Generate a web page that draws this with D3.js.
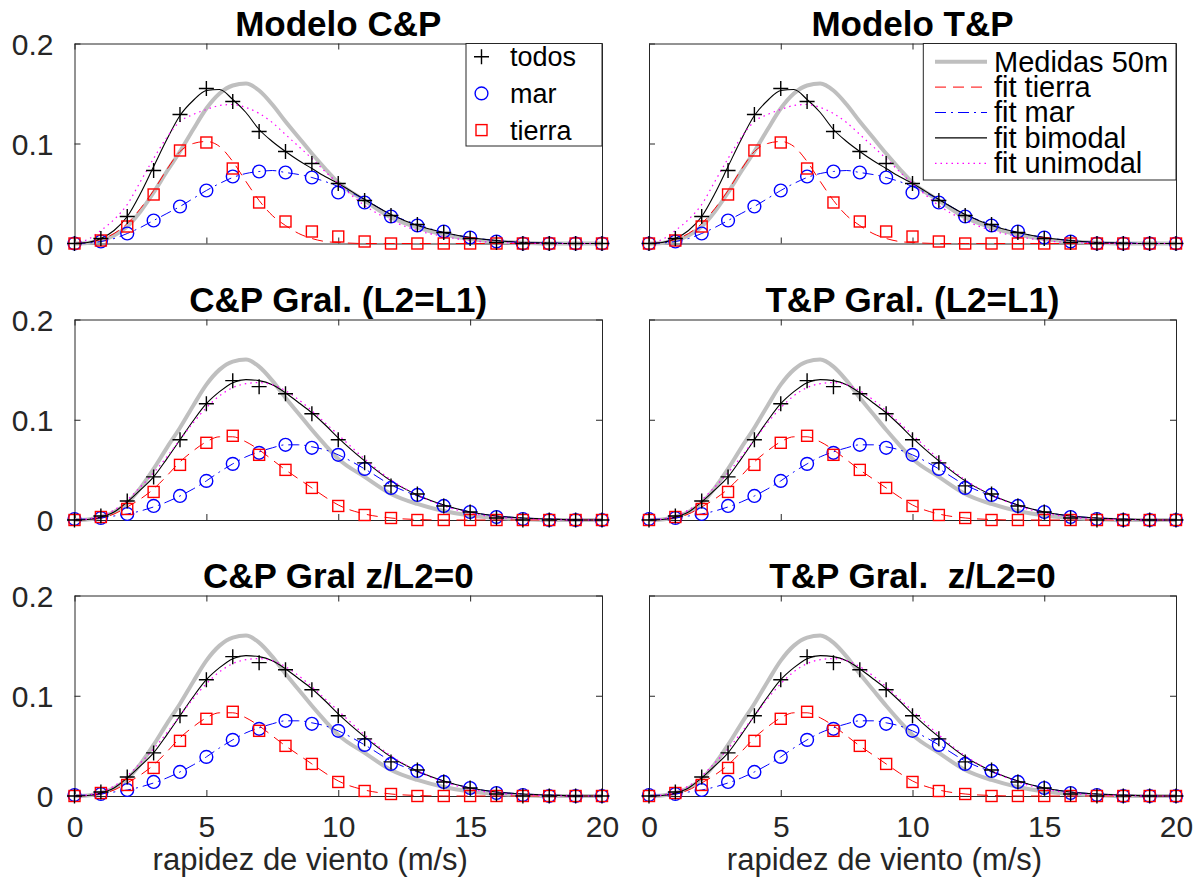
<!DOCTYPE html>
<html>
<head>
<meta charset="utf-8">
<script src="https://cdn.jsdelivr.net/npm/d3@7"></script>
<style>
    body { margin: 0; background: #fff; }
    svg text { font-family: "Liberation Sans", Arial, Helvetica, sans-serif; }
</style>
</head>
<body>
<svg id="chart" width="1199" height="888"></svg>
<script>
const [svgW, svgH] = [1199, 888];
const colX = [[74.5, 602], [649, 1176]];
const rowY = [[43.5, 243.5], [319.5, 520], [595.5, 796]];

// ticks
const xTicks = [0, 5, 10, 15, 20];
const xTickLabels = ['0', '5', '10', '15', '20'];
const yTicks = [0, 0.1, 0.2];
const yTickLabels = ['0', '0.1', '0.2'];

// marker positions (m/s)
const windSpeed = [0, 1, 2, 3, 4, 5, 6, 7, 8, 9, 10, 11, 12, 13, 14, 15, 16, 17, 18, 19, 20];
// sample points of the fitted / measured curves
const fitX = [0, 0.5, 1, 1.5, 2, 2.5, 3, 3.5, 4, 4.5, 5, 5.5, 6, 6.5, 7, 7.5, 8, 8.5, 9, 9.5, 10,
    11, 12, 13, 14, 15, 16, 17, 18, 19, 20];

// measured 50m (same in every panel)
const medidas50m = [0, 0.0005, 0.003, 0.008, 0.017, 0.032, 0.051, 0.072, 0.092, 0.114, 0.135, 0.150, 0.158, 0.160, 0.153, 0.139, 0.122, 0.106, 0.090, 0.075, 0.061,
    0.043, 0.026, 0.016, 0.009, 0.0045, 0.002, 0.0008, 0, 0, 0];

// "Modelo" panels
const modeloTodos = [0, 0.005, 0.027, 0.073, 0.129, 0.155, 0.142, 0.112, 0.092, 0.080, 0.060, 0.043, 0.028, 0.019, 0.011, 0.005, 0.001, 0, 0, 0, 0];
const modeloMar = [0, 0.002, 0.010, 0.023, 0.037, 0.053, 0.067, 0.072, 0.071, 0.066, 0.051, 0.041, 0.027, 0.018, 0.012, 0.006, 0.002, 0, 0, 0, 0];
const modeloTierra = [0, 0.003, 0.017, 0.049, 0.093, 0.101, 0.075, 0.041, 0.022, 0.012, 0.007, 0.002, 0, 0, 0, 0, 0, 0, 0, 0, 0];
const modeloFitTierra = [0, 0.001, 0.004, 0.010, 0.020, 0.035, 0.053, 0.074, 0.092, 0.100, 0.102, 0.097, 0.082, 0.062, 0.043, 0.028, 0.018, 0.010, 0.005, 0.002, 0.001,
    0, 0, 0, 0, 0, 0, 0, 0, 0, 0];
const modeloFitMar = [0, 0.0005, 0.002, 0.005, 0.010, 0.016, 0.023, 0.030, 0.037, 0.045, 0.053, 0.060, 0.066, 0.070, 0.072, 0.073, 0.071, 0.069, 0.066, 0.062, 0.057,
    0.044, 0.029, 0.019, 0.011, 0.006, 0.003, 0.001, 0.0005, 0, 0];
const modeloFitBimodal = [0, 0.001, 0.005, 0.013, 0.027, 0.050, 0.077, 0.104, 0.128, 0.143, 0.153, 0.154, 0.144, 0.131, 0.114, 0.102, 0.092, 0.083, 0.075, 0.067, 0.060,
    0.044, 0.029, 0.018, 0.011, 0.006, 0.003, 0.001, 0.0005, 0, 0];
const modeloFitUnimodal = [0, 0.004, 0.013, 0.024, 0.039, 0.062, 0.085, 0.106, 0.122, 0.129, 0.134, 0.138, 0.139, 0.136, 0.130, 0.121, 0.109, 0.097, 0.085, 0.072, 0.060,
    0.038, 0.023, 0.013, 0.007, 0.003, 0.001, 0.0005, 0, 0, 0];

// "Gral" panels
const gralTodos = [0, 0.004, 0.019, 0.043, 0.080, 0.116, 0.139, 0.133, 0.126, 0.106, 0.080, 0.057, 0.034, 0.026, 0.014, 0.008, 0.002, 0, 0, 0, 0];
const gralMar = [0.001, 0.002, 0.006, 0.014, 0.024, 0.039, 0.056, 0.067, 0.075, 0.072, 0.065, 0.051, 0.032, 0.025, 0.014, 0.008, 0.003, 0.001, 0, 0, 0];
const gralTierra = [0, 0.003, 0.011, 0.028, 0.055, 0.077, 0.084, 0.065, 0.050, 0.032, 0.014, 0.005, 0.002, 0, 0, 0, 0, 0, 0, 0, 0];
const gralFitTierra = [0, 0.0005, 0.002, 0.006, 0.013, 0.021, 0.031, 0.044, 0.058, 0.069, 0.078, 0.083, 0.083, 0.078, 0.070, 0.060, 0.050, 0.041, 0.032, 0.023, 0.015,
    0.006, 0.002, 0.0005, 0, 0, 0, 0, 0, 0, 0];
const gralFitMar = [0.0005, 0.001, 0.002, 0.004, 0.006, 0.009, 0.013, 0.018, 0.024, 0.031, 0.039, 0.048, 0.056, 0.063, 0.068, 0.072, 0.075, 0.075, 0.073, 0.070, 0.065,
    0.051, 0.035, 0.024, 0.015, 0.008, 0.004, 0.002, 0.001, 0, 0];
const gralFitBimodal = [0, 0.0005, 0.003, 0.008, 0.018, 0.030, 0.043, 0.061, 0.080, 0.099, 0.116, 0.128, 0.137, 0.140, 0.139, 0.135, 0.127, 0.117, 0.107, 0.095, 0.082,
    0.059, 0.039, 0.025, 0.015, 0.008, 0.004, 0.002, 0.001, 0, 0];
const gralFitUnimodal = [0, 0.001, 0.004, 0.010, 0.020, 0.033, 0.047, 0.063, 0.080, 0.097, 0.112, 0.124, 0.132, 0.136, 0.137, 0.135, 0.129, 0.120, 0.109, 0.097, 0.085,
    0.061, 0.040, 0.025, 0.014, 0.007, 0.003, 0.001, 0.0005, 0, 0];

const legendMarkers = ['todos', 'mar', 'tierra'];
const legendLines = ['Medidas 50m', 'fit tierra', 'fit mar', 'fit bimodal', 'fit unimodal'];

const dataSets = {
    modelo: {todos: modeloTodos, mar: modeloMar, tierra: modeloTierra,
        fitTierra: modeloFitTierra, fitMar: modeloFitMar, fitBimodal: modeloFitBimodal, fitUnimodal: modeloFitUnimodal},
    gral: {todos: gralTodos, mar: gralMar, tierra: gralTierra,
        fitTierra: gralFitTierra, fitMar: gralFitMar, fitBimodal: gralFitBimodal, fitUnimodal: gralFitUnimodal}
};

const panels = [
    {title: 'Modelo C&P', col: 0, row: 0, set: 'modelo', legend: 'markers'},
    {title: 'Modelo T&P', col: 1, row: 0, set: 'modelo', legend: 'lines'},
    {title: 'C&P Gral. (L2=L1)', col: 0, row: 1, set: 'gral'},
    {title: 'T&P Gral. (L2=L1)', col: 1, row: 1, set: 'gral'},
    {title: 'C&P Gral z/L2=0', col: 0, row: 2, set: 'gral'},
    {title: 'T&P Gral.  z/L2=0', col: 1, row: 2, set: 'gral'}
];

const lineStyles = {
    medidas: {stroke: '#bfbfbf', width: 4, dash: null},
    fitTierra: {stroke: '#ff0000', width: 1, dash: '11,7'},
    fitMar: {stroke: '#0000ff', width: 1, dash: '11,5,2,5'},
    fitBimodal: {stroke: '#000000', width: 1.1, dash: null},
    fitUnimodal: {stroke: '#ff00ff', width: 1.2, dash: '1.5,4'}
};
const axisColor = '#262626';
const svg = d3.select('#chart');

function drawMarker(sel, kind, cx, cy) {
    if (kind === 'todos') {
        sel.append('path').attr('d', `M${cx - 7.5},${cy}H${cx + 7.5}M${cx},${cy - 7.5}V${cy + 7.5}`)
            .attr('stroke', '#000').attr('stroke-width', 1.4).attr('fill', 'none');
    } else if (kind === 'mar') {
        sel.append('circle').attr('cx', cx).attr('cy', cy).attr('r', 6.4)
            .attr('stroke', '#0000ff').attr('stroke-width', 1.4).attr('fill', 'none');
    } else {
        sel.append('rect').attr('x', cx - 5.5).attr('y', cy - 5.5).attr('width', 11).attr('height', 11)
            .attr('stroke', '#ff0000').attr('stroke-width', 1.4).attr('fill', 'none');
    }
}

function styleAxis(g, showLabels) {
    g.select('.domain').attr('stroke', axisColor).attr('stroke-width', 1);
    g.selectAll('.tick line').attr('stroke', axisColor).attr('stroke-width', 1);
    g.selectAll('text').attr('font-size', 30).attr('fill', axisColor)
        .style('display', showLabels ? null : 'none');
}

function drawPanel(p) {
    const data = dataSets[p.set];
    const x = d3.scaleLinear().domain([0, 20]).range(colX[p.col]);
    const y = d3.scaleLinear().domain([0, 0.2]).range([rowY[p.row][1], rowY[p.row][0]]);
    const g = svg.append('g');

    // box with inward ticks
    const gb = g.append('g').attr('transform', `translate(0,${y(0)})`)
        .call(d3.axisBottom(x).tickValues(xTicks).tickSizeInner(-6).tickSizeOuter(0).tickPadding(20)
            .tickFormat((d, i) => xTickLabels[i]));
    styleAxis(gb, p.row === 2);
    const gt = g.append('g').attr('transform', `translate(0,${y(0.2)})`)
        .call(d3.axisTop(x).tickValues(xTicks).tickSizeInner(-6).tickSizeOuter(0));
    styleAxis(gt, false);
    const gl = g.append('g').attr('transform', `translate(${x(0)},0)`)
        .call(d3.axisLeft(y).tickValues(yTicks).tickSizeInner(-6).tickSizeOuter(0).tickPadding(21)
            .tickFormat((d, i) => yTickLabels[i]));
    styleAxis(gl, p.col === 0);
    gl.selectAll('text').attr('dy', '0.36em');
    const gr = g.append('g').attr('transform', `translate(${x(20)},0)`)
        .call(d3.axisRight(y).tickValues(yTicks).tickSizeInner(-6).tickSizeOuter(0));
    styleAxis(gr, false);

    // curves
    const line = d3.line().x((d, i) => x(fitX[i])).y(d => y(d)).curve(d3.curveMonotoneX);
    const curves = [
        ['medidas', medidas50m],
        ['fitTierra', data.fitTierra],
        ['fitMar', data.fitMar],
        ['fitBimodal', data.fitBimodal],
        ['fitUnimodal', data.fitUnimodal]
    ];
    curves.forEach(([key, values]) => {
        const st = lineStyles[key];
        g.append('path').attr('d', line(values)).attr('fill', 'none')
            .attr('stroke', st.stroke).attr('stroke-width', st.width)
            .attr('stroke-dasharray', st.dash);
    });

    // markers
    const gm = g.append('g');
    ['mar', 'tierra', 'todos'].forEach(kind => {
        data[kind].forEach((v, i) => drawMarker(gm, kind, x(windSpeed[i]), y(v)));
    });

    // title
    g.append('text').attr('x', (colX[p.col][0] + colX[p.col][1]) / 2).attr('y', rowY[p.row][0] - 7.5)
        .attr('text-anchor', 'middle').attr('font-size', 35).attr('font-weight', 'bold')
        .style('white-space', 'pre').text(p.title);

    // x label sits a bit left of the axis centre, as in the original
    if (p.row === 2) {
        g.append('text').attr('x', (colX[p.col][0] + colX[p.col][1]) / 2 - 28).attr('y', 870)
            .attr('text-anchor', 'middle').attr('font-size', 31).attr('fill', axisColor)
            .text('rapidez de viento (m/s)');
    }

    if (p.legend === 'markers') drawMarkerLegend(g, x(20));
    if (p.legend === 'lines') drawLineLegend(g, x(20));
}

function drawMarkerLegend(g, right) {
    const lg = g.append('g');
    const top = rowY[0][0];
    lg.append('rect').attr('x', 466).attr('y', top).attr('width', right - 466).attr('height', 102.5)
        .attr('fill', '#fff').attr('stroke', axisColor).attr('stroke-width', 1);
    legendMarkers.forEach((name, i) => {
        const cy = 56.7 + i * 36.7;
        drawMarker(lg, name, 481.5, cy);
        lg.append('text').attr('x', 510).attr('y', cy).attr('dy', '0.36em')
            .attr('font-size', 27).text(name);
    });
}

function drawLineLegend(g, right) {
    const lg = g.append('g');
    const top = rowY[0][0];
    lg.append('rect').attr('x', 923.3).attr('y', top).attr('width', right - 923.3).attr('height', 136.5)
        .attr('fill', '#fff').attr('stroke', axisColor).attr('stroke-width', 1);
    const keys = ['medidas', 'fitTierra', 'fitMar', 'fitBimodal', 'fitUnimodal'];
    legendLines.forEach((name, i) => {
        const cy = 61.7 + i * 25.4;
        const st = lineStyles[keys[i]];
        lg.append('line').attr('x1', 935).attr('x2', 987).attr('y1', cy).attr('y2', cy)
            .attr('stroke', st.stroke).attr('stroke-width', st.width).attr('stroke-dasharray', st.dash);
        lg.append('text').attr('x', 994).attr('y', cy).attr('dy', '0.34em')
            .attr('font-size', 29).text(name);
    });
}

panels.forEach(drawPanel);
</script>
</body>
</html>
